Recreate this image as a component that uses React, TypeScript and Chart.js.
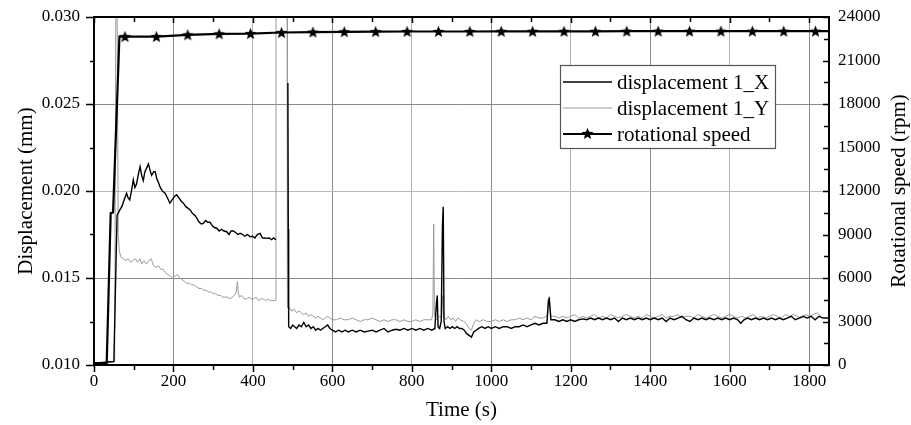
import React, { useEffect, useRef } from "react";
import { Chart, registerables } from "chart.js";

Chart.register(...registerables);

// ---------- data ----------
const timeX = [0, 50, 58, 64, 70, 76, 82, 86, 90, 95, 99, 103, 107, 112, 116, 120, 124, 128, 132, 137, 141, 145, 150, 154, 158, 162, 166, 172, 179, 185, 191, 197, 203, 208, 214, 220, 225, 231, 237, 242, 248, 254, 259, 265, 270, 275, 281, 286, 292, 298, 303, 309, 315, 321, 327, 334, 340, 345, 351, 357, 362, 368, 374, 380, 386, 393, 399, 405, 411, 418, 424, 430, 435, 441, 447, 452, 458, 470, 488, 489, 490, 495, 500, 505, 510, 516, 522, 528, 534, 540, 546, 552, 558, 564, 570, 576, 582, 588, 594, 600, 608, 616, 624, 632, 640, 650, 660, 670, 680, 690, 700, 710, 720, 730, 740, 750, 760, 770, 780, 790, 800, 810, 820, 830, 840, 850, 858, 862, 864, 866, 870, 874, 877, 879, 881, 884, 890, 896, 902, 908, 914, 920, 926, 932, 938, 944, 950, 956, 962, 968, 976, 984, 992, 1000, 1010, 1020, 1030, 1040, 1050, 1060, 1070, 1080, 1090, 1100, 1110, 1120, 1130, 1140, 1144, 1146, 1150, 1160, 1170, 1180, 1190, 1200, 1210, 1220, 1230, 1240, 1250, 1260, 1270, 1280, 1290, 1300, 1310, 1320, 1330, 1340, 1350, 1360, 1370, 1380, 1390, 1400, 1410, 1420, 1430, 1440, 1450, 1460, 1470, 1480, 1490, 1500, 1510, 1520, 1530, 1540, 1550, 1560, 1570, 1580, 1590, 1600, 1610, 1620, 1628, 1636, 1645, 1655, 1665, 1675, 1685, 1695, 1705, 1715, 1725, 1735, 1745, 1755, 1765, 1775, 1785, 1795, 1805, 1815, 1825, 1835, 1850];
const dispX = [0.0101, 0.0102, 0.0186, 0.01887, 0.0191, 0.0195, 0.01987, 0.0196, 0.01949, 0.0201, 0.02064, 0.0202, 0.0204, 0.021, 0.0214, 0.0209, 0.0206, 0.0211, 0.0213, 0.02156, 0.0212, 0.0209, 0.0211, 0.02112, 0.0207, 0.0205, 0.02025, 0.02, 0.01987, 0.0196, 0.0193, 0.0195, 0.0197, 0.01978, 0.0196, 0.0194, 0.0193, 0.0191, 0.019, 0.01891, 0.0187, 0.0186, 0.01843, 0.0182, 0.0181, 0.01814, 0.0183, 0.0182, 0.0182, 0.018, 0.0179, 0.01786, 0.0177, 0.0178, 0.0177, 0.01766, 0.0175, 0.0177, 0.0177, 0.0176, 0.0175, 0.01757, 0.0175, 0.0174, 0.0175, 0.01737, 0.0174, 0.0173, 0.0175, 0.01757, 0.0173, 0.0173, 0.01728, 0.0173, 0.0172, 0.0173, 0.0172, null, 0.0262, 0.0178, 0.0122, 0.0121, 0.0123, 0.0122, 0.0121, 0.0123, 0.0122, 0.01245, 0.0122, 0.0123, 0.0121, 0.0122, 0.012, 0.0121, 0.012, 0.0121, 0.0122, 0.0123, 0.0121, 0.012, 0.0119, 0.012, 0.0119, 0.012, 0.0119, 0.012, 0.0119, 0.012, 0.0119, 0.01195, 0.012, 0.0119, 0.012, 0.0121, 0.0119, 0.012, 0.01205, 0.012, 0.0121, 0.012, 0.0121, 0.012, 0.0121, 0.012, 0.0121, 0.012, 0.0121, 0.0136, 0.014, 0.0122, 0.0121, 0.0125, 0.018, 0.0191, 0.0125, 0.0121, 0.0122, 0.0121, 0.0122, 0.0121, 0.0122, 0.0121, 0.0121, 0.012, 0.0118, 0.0117, 0.0116, 0.0119, 0.012, 0.0121, 0.0122, 0.0121, 0.0122, 0.0121, 0.0122, 0.0121, 0.0122, 0.0122, 0.0121, 0.0122, 0.0122, 0.0123, 0.0122, 0.0123, 0.0124, 0.0123, 0.0124, 0.0124, 0.0137, 0.0138, 0.0126, 0.0126, 0.0125, 0.0126, 0.0125, 0.0126, 0.0125, 0.0126, 0.01265, 0.0126, 0.0127, 0.0126, 0.0127, 0.0126, 0.0127, 0.0126, 0.0127, 0.0125, 0.0127, 0.0126, 0.0127, 0.0126, 0.0127, 0.0126, 0.0127, 0.0126, 0.0127, 0.0126, 0.0127, 0.0125, 0.0127, 0.0126, 0.0127, 0.0128, 0.0126, 0.0125, 0.0127, 0.0126, 0.0127, 0.0126, 0.0127, 0.0126, 0.0127, 0.0126, 0.0127, 0.0126, 0.0127, 0.0126, 0.0124, 0.0126, 0.0127, 0.0126, 0.0127, 0.0126, 0.0127, 0.0126, 0.0127, 0.0126, 0.0127, 0.0126, 0.0127, 0.0128, 0.0126, 0.0127, 0.0128, 0.0127, 0.0128, 0.0126, 0.0128, 0.0127, 0.0127];

const timeY = [0, 52, 55, 58, 61, 64, 68, 74, 80, 86, 92, 98, 104, 110, 116, 120, 126, 132, 138, 144, 150, 156, 162, 168, 174, 180, 186, 192, 198, 204, 210, 216, 222, 228, 234, 240, 246, 252, 258, 264, 270, 276, 282, 288, 294, 300, 306, 312, 318, 324, 330, 336, 342, 348, 354, 358, 361, 363, 366, 372, 378, 384, 390, 396, 402, 408, 414, 420, 426, 432, 438, 444, 450, 457, 458, 486, 487, 492, 498, 504, 510, 516, 522, 528, 534, 540, 546, 552, 558, 564, 570, 576, 582, 588, 594, 600, 610, 620, 630, 640, 650, 660, 670, 680, 690, 700, 710, 720, 730, 740, 750, 760, 770, 780, 790, 800, 810, 820, 830, 840, 850, 853, 855, 857, 862, 870, 875, 878, 880, 886, 892, 898, 904, 910, 916, 922, 930, 936, 944, 950, 956, 962, 970, 980, 990, 1000, 1010, 1020, 1030, 1040, 1050, 1060, 1070, 1080, 1090, 1100, 1110, 1120, 1130, 1140, 1144, 1147, 1150, 1160, 1170, 1180, 1190, 1200, 1210, 1220, 1230, 1240, 1250, 1260, 1270, 1280, 1290, 1300, 1310, 1320, 1330, 1340, 1350, 1360, 1370, 1380, 1390, 1400, 1410, 1420, 1430, 1440, 1450, 1460, 1470, 1480, 1490, 1500, 1510, 1520, 1530, 1540, 1550, 1560, 1570, 1580, 1590, 1600, 1610, 1620, 1630, 1640, 1650, 1660, 1670, 1680, 1690, 1700, 1710, 1720, 1730, 1740, 1750, 1760, 1770, 1780, 1790, 1800, 1810, 1820, 1830, 1840, 1850];
const dispY = [0.0101, 0.0102, 0.031, 0.031, 0.0175, 0.0165, 0.0162, 0.0161, 0.016, 0.0161, 0.0159, 0.016, 0.0161, 0.0159, 0.0161, 0.0158, 0.016, 0.0158, 0.016, 0.0161, 0.0157, 0.0156, 0.0157, 0.0155, 0.0155, 0.0153, 0.0152, 0.0151, 0.015, 0.0151, 0.0152, 0.015, 0.0149, 0.0148, 0.0147, 0.0147, 0.0146, 0.0146, 0.0145, 0.0144, 0.0144, 0.0143, 0.0143, 0.0142, 0.0142, 0.0141, 0.0141, 0.014, 0.014, 0.0139, 0.0139, 0.0139, 0.0138, 0.0139, 0.014, 0.0142, 0.0148, 0.0142, 0.0139, 0.014, 0.0138, 0.0138, 0.0139, 0.0138, 0.0138, 0.0139, 0.0137, 0.0138, 0.0138, 0.0137, 0.0138, 0.0137, 0.0137, 0.0137, 0.031, 0.031, 0.0133, 0.0133, 0.0131, 0.0132, 0.013, 0.0131, 0.013, 0.0129, 0.013, 0.0128, 0.0129, 0.0128, 0.0127, 0.0128, 0.0127, 0.0126, 0.0127, 0.0128, 0.0127, 0.0126, 0.0126, 0.0127, 0.0126, 0.0126, 0.0127, 0.0126, 0.0125, 0.0126, 0.0126, 0.0127, 0.0126, 0.0125, 0.0126, 0.0125, 0.0126, 0.0126, 0.0125, 0.0126, 0.0125, 0.0125, 0.0126, 0.0125, 0.0126, 0.0126, 0.0126, 0.013, 0.0181, 0.0128, 0.0126, 0.0128, 0.0127, 0.014, 0.0128, 0.0126, 0.0128, 0.0126, 0.0127, 0.0125, 0.0127, 0.0126, 0.0125, 0.0124, 0.0121, 0.012, 0.0124, 0.0126, 0.0125, 0.0126, 0.0125, 0.0125, 0.0126, 0.0125, 0.0126, 0.0125, 0.0126, 0.0126, 0.0127, 0.0126, 0.0127, 0.0126, 0.0128, 0.0127, 0.0127, 0.0128, 0.0139, 0.0136, 0.0128, 0.0128, 0.0127, 0.0128, 0.0127, 0.0128, 0.0129, 0.0127, 0.0128, 0.0127, 0.0128, 0.0129, 0.0127, 0.0128, 0.0127, 0.0129, 0.0128, 0.0127, 0.0128, 0.0129, 0.0128, 0.0127, 0.0128, 0.0127, 0.0129, 0.0128, 0.0127, 0.0128, 0.0129, 0.0127, 0.0128, 0.0128, 0.0129, 0.0127, 0.0128, 0.0128, 0.0127, 0.0129, 0.0128, 0.0127, 0.0128, 0.0129, 0.0128, 0.0127, 0.0128, 0.0129, 0.0128, 0.0127, 0.0128, 0.0127, 0.0128, 0.0129, 0.0127, 0.0128, 0.0127, 0.0128, 0.0129, 0.0128, 0.0127, 0.0129, 0.0128, 0.0129, 0.0128, 0.0127, 0.0129, 0.0128, 0.0129, 0.013, 0.0128];

const timeR = [0, 32, 42, 48, 64, 78, 157, 236, 315, 394, 472, 551, 630, 709, 788, 867, 946, 1025, 1104, 1183, 1262, 1341, 1420, 1499, 1578, 1657, 1736, 1816, 1850];
const rpm = [120, 150, 10470, 10520, 22650, 22650, 22650, 22770, 22840, 22860, 22930, 22960, 22980, 22990, 23000, 23000, 23000, 23010, 23010, 23010, 23010, 23020, 23020, 23020, 23020, 23020, 23020, 23020, 23020];
const starFrom = 5; // first starred rpm sample
const starTo = 27; // last starred rpm sample

const labels = ["displacement 1_X", "displacement 1_Y", "rotational speed"];
const xTitle = "Time (s)";
const yTitle = "Displacement (mm)";
const y1Title = "Rotational speed (rpm)";

const FONT = "'Liberation Serif', 'Times New Roman', serif";

function makeStar(r: number) {
  const size = Math.ceil(r * 2 + 2);
  const c = document.createElement("canvas");
  c.width = size;
  c.height = size;
  const g = c.getContext("2d")!;
  const cx = size / 2, cy = size / 2 + 0.5;
  g.beginPath();
  for (let i = 0; i < 10; i++) {
    const rr = i % 2 === 0 ? r : r * 0.42;
    const a = -Math.PI / 2 + (i * Math.PI) / 5;
    const px = cx + rr * Math.cos(a), py = cy + rr * Math.sin(a);
    if (i === 0) g.moveTo(px, py); else g.lineTo(px, py);
  }
  g.closePath();
  g.fillStyle = "#000";
  g.fill();
  return c;
}

const noPad = (s: any) => {
  s.paddingTop = 0;
  s.paddingBottom = 0;
  s.paddingLeft = 0;
  s.paddingRight = 0;
};

export default function App() {
  const ref = useRef<HTMLCanvasElement | null>(null);
  useEffect(() => {
    if (!ref.current) return;
    const star = makeStar(6.3);

    const framePlugin = {
      id: "frame",
      afterDraw(chart: any) {
        const { ctx, chartArea: a, scales } = chart;
        const sx = scales.x, sy = scales.y, sy1 = scales.y1;
        ctx.save();
        ctx.strokeStyle = "#000";
        ctx.lineWidth = 1.5;
        ctx.beginPath();
        // x ticks: bottom outward, top inward
        for (let t = 0; t <= 1800; t += 100) {
          const px = Math.round(sx.getPixelForValue(t)) + 0.5;
          const major = t % 200 === 0;
          ctx.moveTo(px, a.bottom);
          ctx.lineTo(px, a.bottom + (major ? 7 : 5));
          ctx.moveTo(px, a.top);
          ctx.lineTo(px, a.top + (major ? 6 : 5));
        }
        // left ticks outward
        for (let v = 0.01; v <= 0.03 + 1e-9; v += 0.0025) {
          const py = Math.round(sy.getPixelForValue(v)) + 0.5;
          const major = Math.abs(Math.round(v / 0.005) * 0.005 - v) < 1e-9;
          ctx.moveTo(a.left, py);
          ctx.lineTo(a.left - (major ? 8 : 4), py);
        }
        // right ticks inward
        for (let v = 0; v <= 24000; v += 1500) {
          const py = Math.round(sy1.getPixelForValue(v)) + 0.5;
          const major = v % 3000 === 0;
          ctx.moveTo(a.right, py);
          ctx.lineTo(a.right - (major ? 6 : 5), py);
        }
        ctx.stroke();
        ctx.lineWidth = 2;
        ctx.strokeRect(a.left, a.top, a.right - a.left, a.bottom - a.top);

        // right axis title (reads bottom-to-top)
        ctx.fillStyle = "#000";
        ctx.font = `21px ${FONT}`;
        ctx.textAlign = "center";
        ctx.textBaseline = "middle";
        ctx.save();
        ctx.translate(899, (a.top + a.bottom) / 2);
        ctx.rotate(-Math.PI / 2);
        ctx.fillText(y1Title, 0, 0);
        ctx.restore();

        // legend
        const lx = 560, ly = 65, lw = 215, lh = 83;
        ctx.fillStyle = "#fff";
        ctx.fillRect(lx, ly, lw, lh);
        ctx.strokeStyle = "#555";
        ctx.lineWidth = 1.2;
        ctx.strokeRect(lx + 0.5, ly + 0.5, lw, lh);
        const order = [1, 2, 0];
        order.forEach((di, i) => {
          const ds = chart.data.datasets[di];
          const yy = ly + 17 + i * 26;
          ctx.strokeStyle = ds.borderColor;
          ctx.lineWidth = ds.borderWidth;
          ctx.beginPath();
          ctx.moveTo(lx + 3, yy);
          ctx.lineTo(lx + 52, yy);
          ctx.stroke();
          if (di === 0) ctx.drawImage(star, lx + 27.5 - star.width / 2, yy - star.height / 2 - 0.5);
          ctx.fillStyle = "#000";
          ctx.font = `21px ${FONT}`;
          ctx.textAlign = "left";
          ctx.textBaseline = "middle";
          ctx.fillText(ds.label, lx + 57, yy + 1);
        });
        ctx.restore();
      },
    };

    const xGrid = (ctx: any) => {
      const v = ctx.tick ? ctx.tick.value : 0;
      if (v === 0) return "rgba(0,0,0,0)";
      return v % 400 === 0 ? "#b0b0b0" : "#8a8a8a";
    };
    const yGrid = (ctx: any) => {
      const v = ctx.tick ? ctx.tick.value : 0;
      if (Math.abs(v - 0.01) < 1e-9 || Math.abs(v - 0.03) < 1e-9) return "rgba(0,0,0,0)";
      return Math.abs(v - 0.02) < 1e-9 ? "#b8b8b8" : "#8a8a8a";
    };

    const chart = new Chart(ref.current, {
      type: "line",
      data: {
        datasets: [
          {
            label: labels[2],
            yAxisID: "y1",
            data: timeR.map((t, i) => ({ x: t, y: rpm[i] })),
            borderColor: "#000",
            borderWidth: 2.2,
            pointStyle: star as any,
            pointRadius: timeR.map((_, i) => (i >= starFrom && i <= starTo ? 6 : 0)),
            pointHoverRadius: 0,
            tension: 0,
          },
          {
            label: labels[0],
            yAxisID: "y",
            data: timeX.map((t, i) => ({ x: t, y: dispX[i] })),
            borderColor: "#000",
            borderWidth: 1.4,
            pointRadius: 0,
            spanGaps: false,
            tension: 0,
          },
          {
            label: labels[1],
            yAxisID: "y",
            data: timeY.map((t, i) => ({ x: t, y: dispY[i] })),
            borderColor: "#9a9a9a",
            borderWidth: 1,
            pointRadius: 0,
            tension: 0,
          },
        ],
      },
      options: {
        animation: false,
        responsive: true,
        maintainAspectRatio: false,
        layout: { padding: { top: 17, left: 0, right: 0, bottom: 0 } },
        plugins: { legend: { display: false }, tooltip: { enabled: false } },
        scales: {
          x: {
            type: "linear",
            min: 0,
            max: 1850,
            border: { display: false },
            grid: { color: xGrid, lineWidth: 1, drawTicks: false },
            ticks: {
              stepSize: 200,
              includeBounds: false,
              autoSkip: false,
              maxRotation: 0,
              color: "#000",
              padding: 6,
              font: { family: FONT, size: 17 },
              callback: (v: any) => String(v),
            },
            title: {
              display: true,
              text: xTitle,
              color: "#000",
              font: { family: FONT, size: 21 },
              padding: { top: 0, bottom: 2 },
            },
            afterFit: (s: any) => { s.height = 60; noPad(s); },
          },
          y: {
            type: "linear",
            position: "left",
            min: 0.01,
            max: 0.03,
            border: { display: false },
            grid: { color: yGrid, lineWidth: 1, drawTicks: false },
            ticks: {
              stepSize: 0.005,
              color: "#000",
              padding: 14,
              font: { family: FONT, size: 17 },
              callback: (v: any) => Number(v).toFixed(3),
            },
            title: {
              display: true,
              text: yTitle,
              color: "#000",
              font: { family: FONT, size: 21 },
              padding: { top: 14, bottom: 0 },
            },
            afterFit: (s: any) => { s.width = 94; noPad(s); },
          },
          y1: {
            type: "linear",
            position: "right",
            min: 0,
            max: 24000,
            border: { display: false },
            grid: { display: false, drawTicks: false },
            ticks: {
              stepSize: 3000,
              color: "#000",
              padding: 9,
              font: { family: FONT, size: 17 },
              callback: (v: any) => String(v),
            },
            afterFit: (s: any) => { s.width = 82; noPad(s); },
          },
        },
      },
      plugins: [framePlugin],
    });
    return () => chart.destroy();
  }, []);

  return (
    <div style={{ position: "fixed", left: 0, top: 0, width: 911, height: 425, background: "#fff" }}>
      <canvas ref={ref} />
    </div>
  );
}
